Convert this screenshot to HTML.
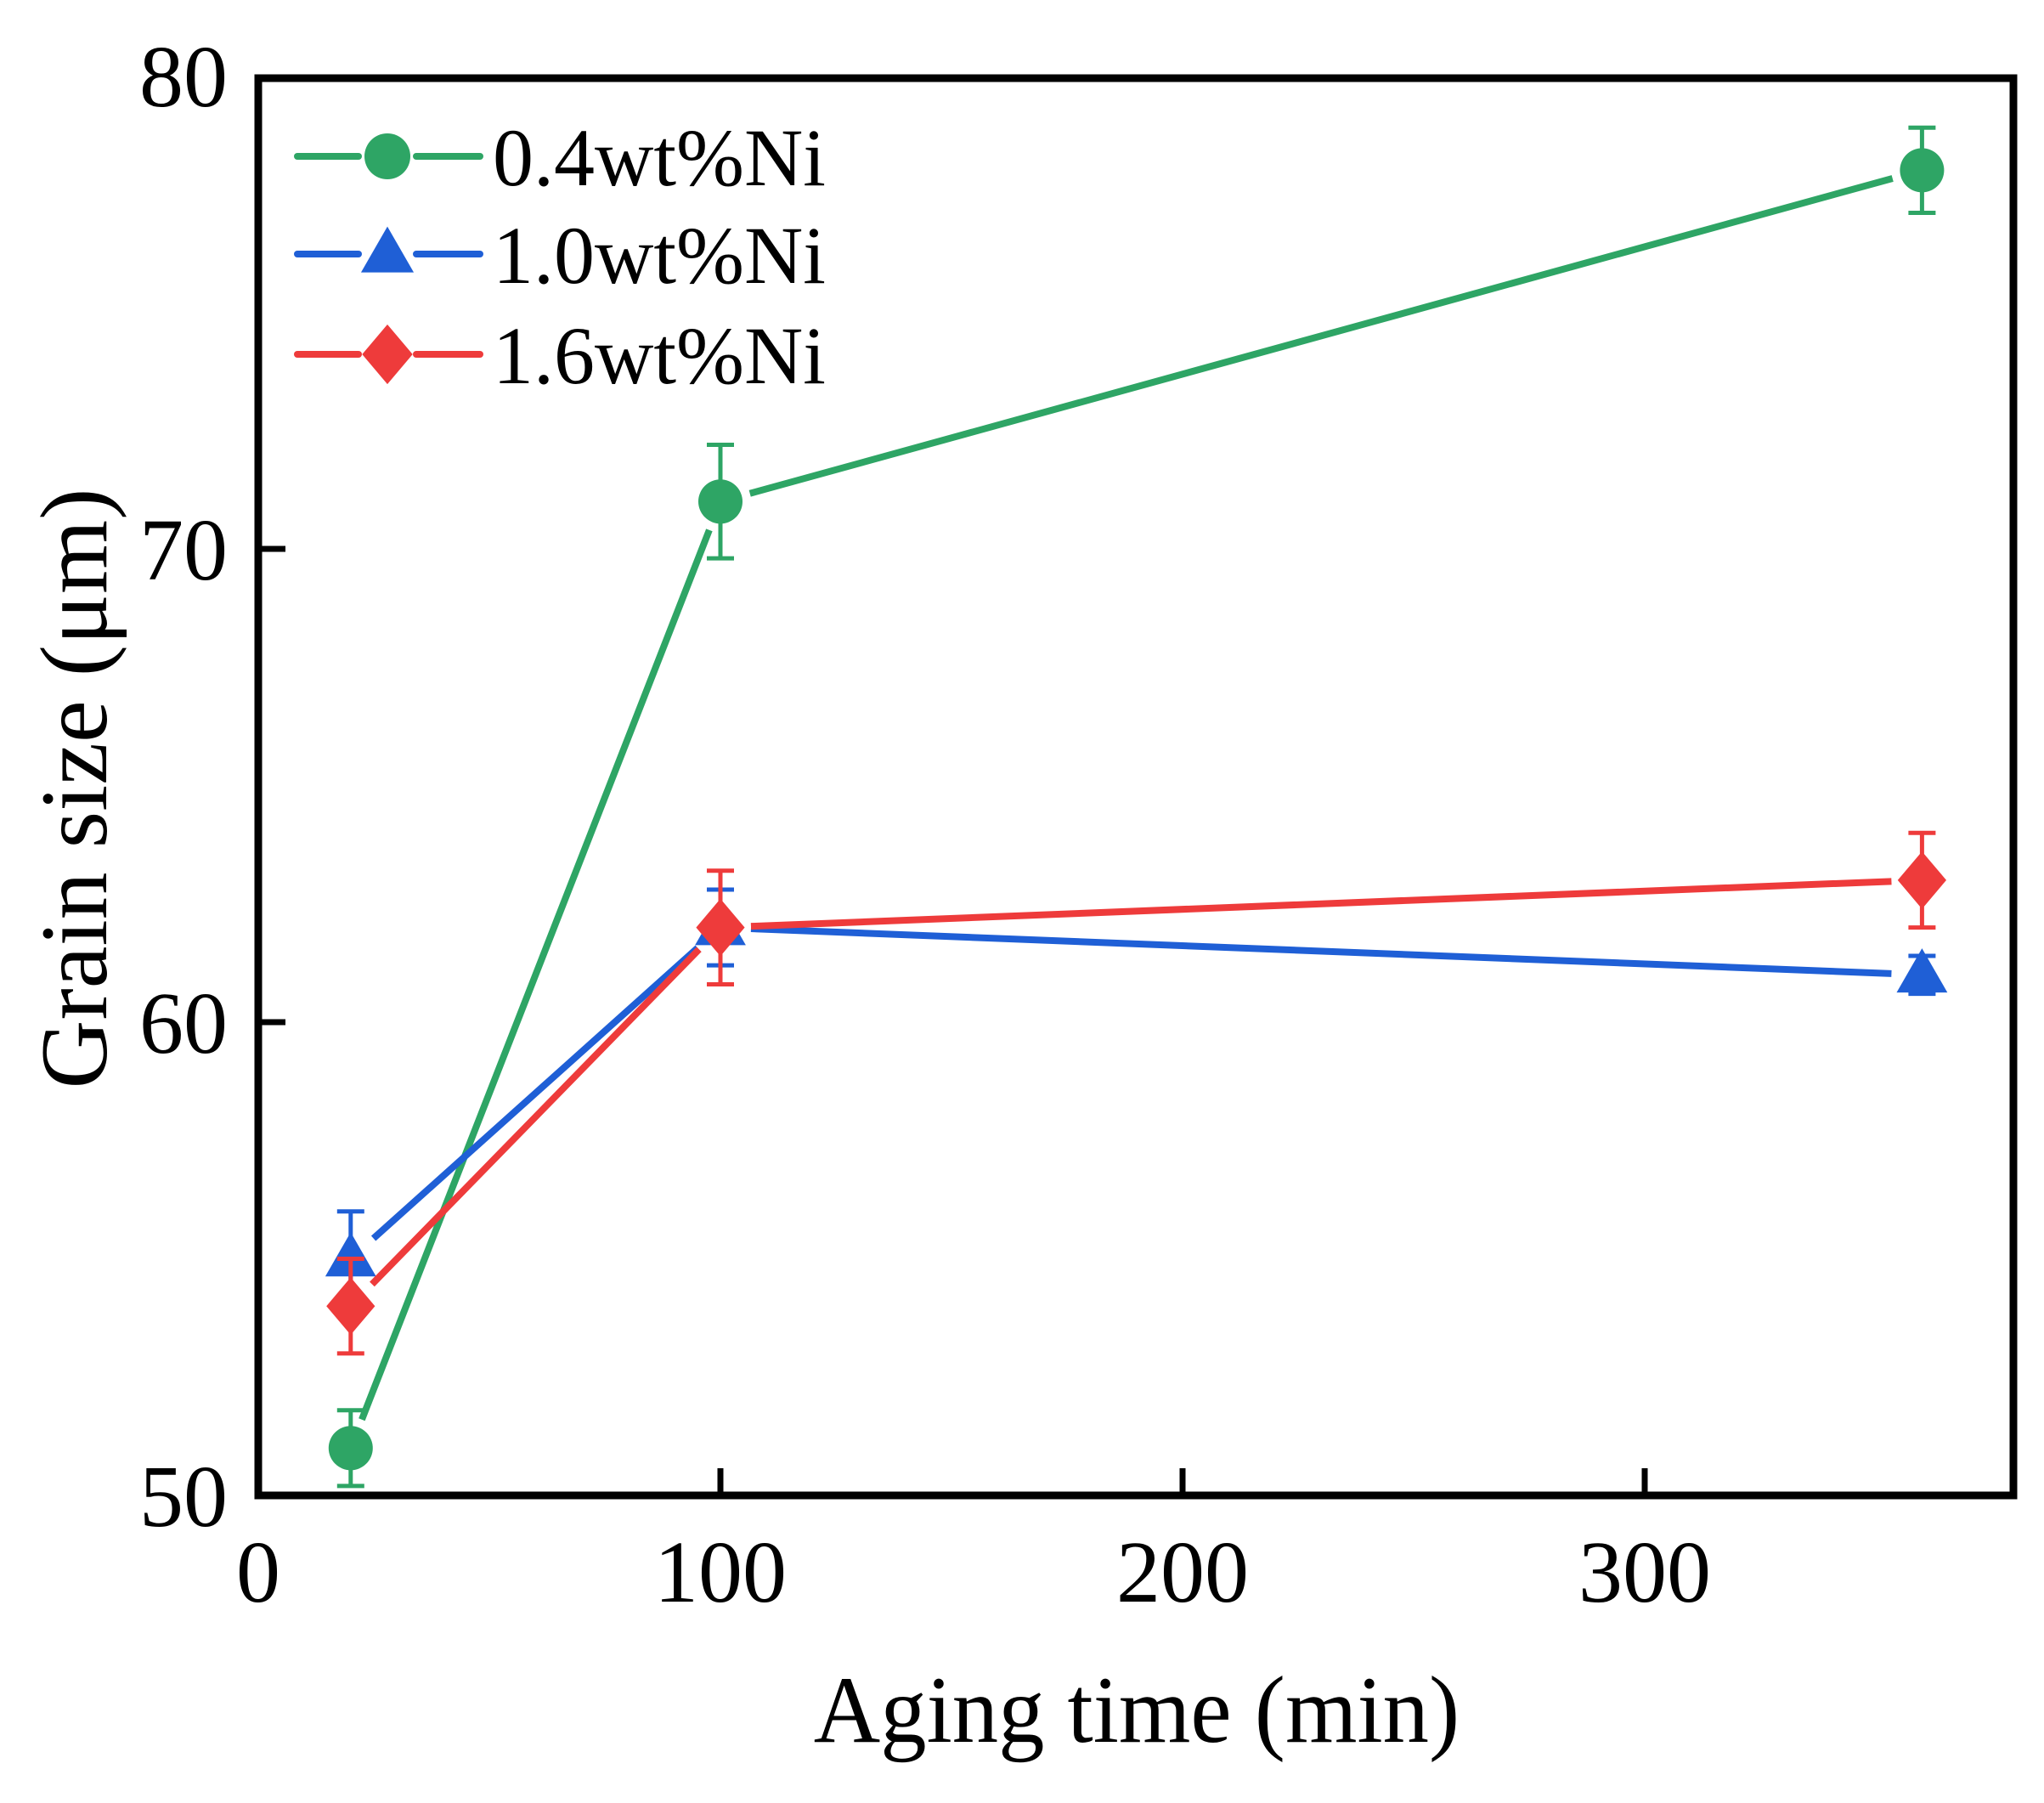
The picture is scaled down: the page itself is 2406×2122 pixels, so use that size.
<!DOCTYPE html>
<html><head><meta charset="utf-8"><style>
html,body{margin:0;padding:0;background:#fff}
svg{display:block}
text{font-family:"Liberation Serif",serif;fill:#000}
</style></head><body>
<svg id="chart" width="2406" height="2122" viewBox="0 0 2406 2122" xmlns="http://www.w3.org/2000/svg">
<g id="marks"></g>
<rect x="304" y="92" width="2066" height="1668" fill="none" stroke="#000" stroke-width="9"/>
<g id="axes"></g>
<text x="1338" y="2050" font-size="112" text-anchor="middle" transform="translate(1338,0) scale(0.97,1) translate(-1338,0)">Aging time (min)</text>
<text transform="translate(125,928) rotate(-90)" font-size="112" text-anchor="middle">Grain size (μm)</text>
<g id="legend"></g>
</svg>
<script>
const categories = [20, 100, 360];
const seriesNames = ["0.4wt%Ni", "1.0wt%Ni", "1.6wt%Ni"];
const green = [51, 71, 78];
const greenErr = [0.8, 1.2, 0.9];
const blue = [55, 62, 61];
const blueErr = [1.0, 0.8, 0.4];
const red = [54, 62, 63];
const redErr = [1.0, 1.2, 1.0];
const xTicks = [0, 100, 200, 300];
const yTicks = [50, 60, 70, 80];

const NS = "http://www.w3.org/2000/svg";
const X0 = 304, XK = 5.44;
const Y0 = 1760, YK = 55.7;
const xs = v => X0 + (v - 0) * XK;
const ys = v => Y0 - (v - 50) * YK;
function mk(tag, attrs, parent) {
  const e = document.createElementNS(NS, tag);
  for (const k in attrs) e.setAttribute(k, attrs[k]);
  parent.appendChild(e);
  return e;
}
const axes = document.getElementById('axes');
xTicks.forEach(t => {
  const l = mk('line', {x1: xs(t), x2: xs(t), y1: Y0, y2: Y0 - 32, stroke: '#000', 'stroke-width': 7}, axes);
  
  
  const tx = mk('text', {x: xs(t), y: 1885, 'font-size': 104, 'text-anchor': 'middle'}, axes);
  tx.textContent = t;
  
  
});
yTicks.forEach(t => {
  if (t > 50 && t < 80) {
    const l = mk('line', {x1: X0, x2: X0 + 32, y1: ys(t), y2: ys(t), stroke: '#000', 'stroke-width': 7}, axes);
    
    
  }
  const tx = mk('text', {x: 268, y: ys(t) + 36, 'font-size': 104, 'text-anchor': 'end'}, axes);
  tx.textContent = t;
  
  
});

function marker(shape, cx, cy, color, parent, r) {
  let e;
  if (shape === 'circle') e = mk('circle', {cx, cy, r, fill: color}, parent);
  else if (shape === 'tri') e = mk('polygon', {points: `${cx},${cy - r * 1.2} ${cx - r * 1.15},${cy + r * 0.8} ${cx + r * 1.15},${cy + r * 0.8}`, fill: color}, parent);
  else e = mk('polygon', {points: `${cx},${cy - r * 1.3} ${cx + r * 1.1},${cy} ${cx},${cy + r * 1.3} ${cx - r * 1.1},${cy}`, fill: color}, parent);
  return e;
}
const marks = document.getElementById('marks');
const series = [
  {name: 'green', vals: green, err: greenErr, color: '#2ea565', shape: 'circle'},
  {name: 'blue', vals: blue, err: blueErr, color: '#1f5fd6', shape: 'tri'},
  {name: 'red', vals: red, err: redErr, color: '#ee3b3b', shape: 'diamond'}
];
series.forEach(s => {
  const g = mk('g', {}, marks);
  
  
  for (let i = 0; i < categories.length - 1; i++) {
    const x1 = xs(categories[i]), y1 = ys(s.vals[i]), x2 = xs(categories[i + 1]), y2 = ys(s.vals[i + 1]);
    const d = Math.hypot(x2 - x1, y2 - y1), gap = 36;
    const ux = (x2 - x1) / d, uy = (y2 - y1) / d;
    const l = mk('line', {x1: x1 + ux * gap, y1: y1 + uy * gap, x2: x2 - ux * gap, y2: y2 - uy * gap, stroke: s.color, 'stroke-width': 8}, g);
    
    
  }
  categories.forEach((c, i) => {
    const x = xs(c), yt = ys(s.vals[i] + s.err[i]), yb = ys(s.vals[i] - s.err[i]);
    const eb = mk('path', {d: `M${x},${yt}V${yb}M${x - 16},${yt}H${x + 16}M${x - 16},${yb}H${x + 16}`, stroke: s.color, 'stroke-width': 5, fill: 'none'}, g);
    
    
    const m = marker(s.shape, x, ys(s.vals[i]), s.color, g, 26);
    
    
  });
});
const legend = document.getElementById('legend');
const legendY = [184, 299, 417];
series.forEach((s, i) => {
  const g = mk('g', {}, legend);
  
  
  mk('line', {x1: 350, x2: 422, y1: legendY[i], y2: legendY[i], stroke: s.color, 'stroke-width': 8, 'stroke-linecap': 'round'}, g);
  mk('line', {x1: 490, x2: 565, y1: legendY[i], y2: legendY[i], stroke: s.color, 'stroke-width': 8, 'stroke-linecap': 'round'}, g);
  marker(s.shape, 456, legendY[i], s.color, g, 27);
  const t = mk('text', {x: 580, y: legendY[i] + 34, 'font-size': 96}, g);
  t.textContent = seriesNames[i];
});
</script>
</body></html>
